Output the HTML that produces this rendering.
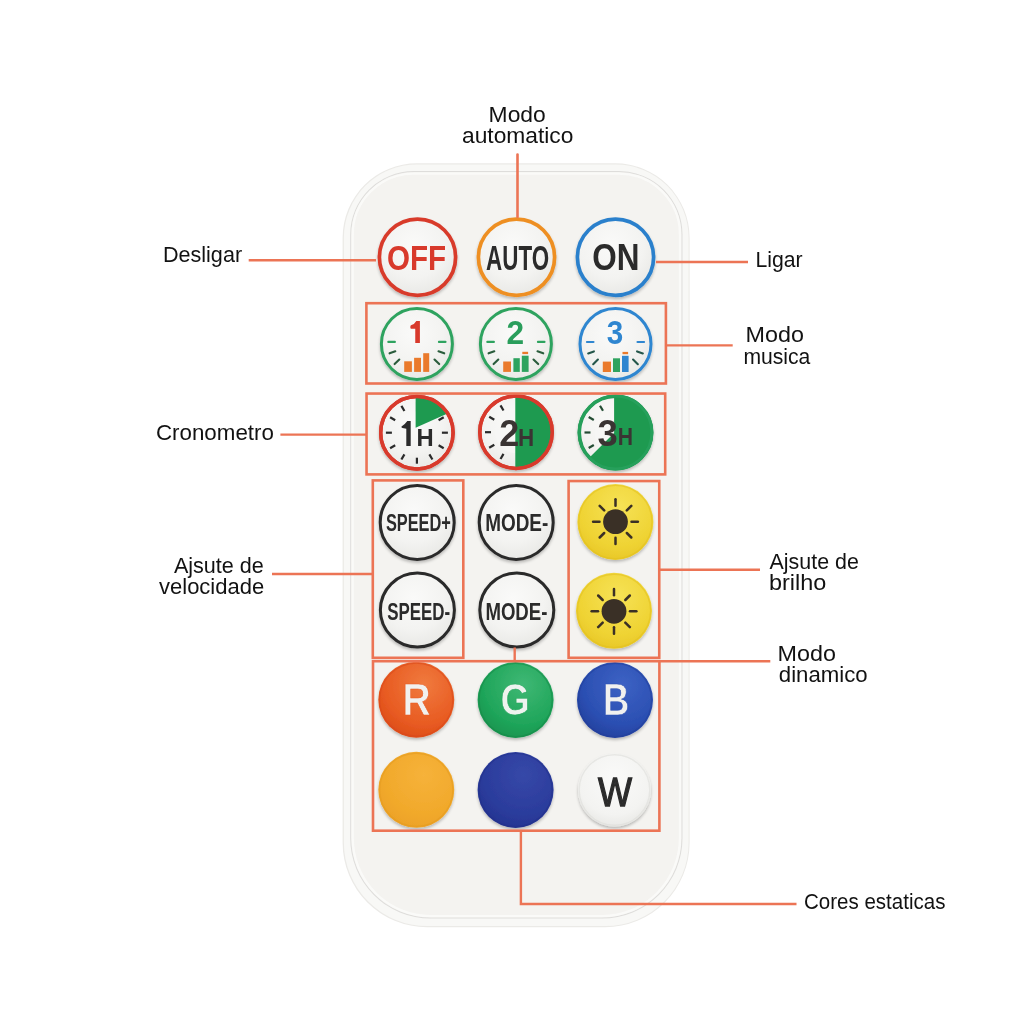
<!DOCTYPE html>
<html><head><meta charset="utf-8">
<style>
html,body{margin:0;padding:0;background:#fff;width:1024px;height:1024px;overflow:hidden}
svg{display:block;will-change:transform}
.lb{font-family:"Liberation Sans",sans-serif;font-size:21.5px;fill:#121212}
.bt{font-family:"Liberation Sans",sans-serif;font-weight:bold}
.ln{stroke:#ec7455;stroke-width:2.4;fill:none}
.bx{stroke-width:2.6}
</style></head>
<body>
<svg width="1024" height="1024" viewBox="0 0 1024 1024">
<defs>
  <radialGradient id="gw" cx="0.45" cy="0.35" r="0.7">
    <stop offset="0" stop-color="#fafaf9"/>
    <stop offset="0.6" stop-color="#f3f3f1"/>
    <stop offset="1" stop-color="#e7e7e4"/>
  </radialGradient>
  <radialGradient id="gy" cx="0.55" cy="0.3" r="0.75">
    <stop offset="0" stop-color="#f6e256"/>
    <stop offset="0.7" stop-color="#efd333"/>
    <stop offset="1" stop-color="#e7c526"/>
  </radialGradient>
  <radialGradient id="gr" cx="0.6" cy="0.3" r="0.75">
    <stop offset="0" stop-color="#f07a3e"/>
    <stop offset="0.7" stop-color="#e85b22"/>
    <stop offset="1" stop-color="#dc4c18"/>
  </radialGradient>
  <radialGradient id="gg" cx="0.6" cy="0.3" r="0.75">
    <stop offset="0" stop-color="#3fb874"/>
    <stop offset="0.7" stop-color="#1fa55a"/>
    <stop offset="1" stop-color="#18934e"/>
  </radialGradient>
  <radialGradient id="gb" cx="0.6" cy="0.3" r="0.75">
    <stop offset="0" stop-color="#3d62c4"/>
    <stop offset="0.7" stop-color="#2b4fb2"/>
    <stop offset="1" stop-color="#243f9c"/>
  </radialGradient>
  <radialGradient id="go" cx="0.6" cy="0.3" r="0.75">
    <stop offset="0" stop-color="#f6b23a"/>
    <stop offset="0.7" stop-color="#f1a92b"/>
    <stop offset="1" stop-color="#eca127"/>
  </radialGradient>
  <radialGradient id="gd" cx="0.6" cy="0.3" r="0.75">
    <stop offset="0" stop-color="#3648a8"/>
    <stop offset="0.7" stop-color="#2b3c9c"/>
    <stop offset="1" stop-color="#243390"/>
  </radialGradient>
  <radialGradient id="gww" cx="0.5" cy="0.35" r="0.7">
    <stop offset="0" stop-color="#fafaf9"/>
    <stop offset="0.7" stop-color="#f3f3f1"/>
    <stop offset="1" stop-color="#e6e6e3"/>
  </radialGradient>
  <filter id="sh" x="-20%" y="-20%" width="140%" height="150%">
    <feGaussianBlur in="SourceAlpha" stdDeviation="1.6"/>
    <feOffset dy="1.5"/>
    <feComponentTransfer><feFuncA type="linear" slope="0.25"/></feComponentTransfer>
    <feMerge><feMergeNode/><feMergeNode in="SourceGraphic"/></feMerge>
  </filter>
</defs>

<!-- remote body -->
<path d="M417.1,163.3 H615.1 A74.5,74.5 0 0 1 689.6,237.8 V842.7 A84.5,84.5 0 0 1 605.1,927.2 H427.1 A84.5,84.5 0 0 1 342.6,842.7 V237.8 A74.5,74.5 0 0 1 417.1,163.3 Z" fill="#ebeae7"/>
<path d="M417.2,164.4 H615.3000000000001 A73.3,73.3 0 0 1 688.6,237.7 V842.7 A83.3,83.3 0 0 1 605.3000000000001,926 H427.2 A83.3,83.3 0 0 1 343.9,842.7 V237.7 A73.3,73.3 0 0 1 417.2,164.4 Z" fill="#f8f8f6"/>
<path d="M413.7,171.1 H619.0 A63.5,63.5 0 0 1 682.5,234.6 V838.1 A80.5,80.5 0 0 1 602.0,918.6 H430.7 A80.5,80.5 0 0 1 350.2,838.1 V234.6 A63.5,63.5 0 0 1 413.7,171.1 Z" fill="#dedddb"/>
<path d="M413.7,172.1 H619.0 A62.5,62.5 0 0 1 681.5,234.6 V838.1 A79.5,79.5 0 0 1 602.0,917.6 H430.7 A79.5,79.5 0 0 1 351.2,838.1 V234.6 A62.5,62.5 0 0 1 413.7,172.1 Z" fill="#f4f3f0"/>
<path d="M413.7,173.6 H619 A61,61 0 0 1 680,234.6 V838.1 A78,78 0 0 1 602,916.1 H430.7 A78,78 0 0 1 352.7,838.1 V234.6 A61,61 0 0 1 413.7,173.6 Z" fill="none" stroke="#fbfbfa" stroke-width="2.4" opacity="0.8"/>

<!-- ===== Row 1 ===== -->
<g filter="url(#sh)">
  <circle cx="417.5" cy="257.2" r="38.1" fill="url(#gw)" stroke="#d83a2c" stroke-width="3.7"/>
  <circle cx="516.5" cy="257.2" r="38.1" fill="url(#gw)" stroke="#ee8f22" stroke-width="3.7"/>
  <circle cx="615.5" cy="257.2" r="38.1" fill="url(#gw)" stroke="#2c80cc" stroke-width="3.7"/>
</g>
<text class="bt" x="387" y="269.6" font-size="35" textLength="59.2" lengthAdjust="spacingAndGlyphs" fill="#d83a2c">OFF</text>
<text class="bt" x="486.1" y="269.6" font-size="35" textLength="63" lengthAdjust="spacingAndGlyphs" fill="#2b2b2b">AUTO</text>
<text class="bt" x="592.3" y="269.5" font-size="36" textLength="47.2" lengthAdjust="spacingAndGlyphs" fill="#2b2b2b">ON</text>

<!-- ===== Row 2 (music) ===== -->
<g filter="url(#sh)">
  <circle cx="416.9" cy="343.9" r="35.5" fill="url(#gw)" stroke="#2ea35f" stroke-width="3"/>
  <circle cx="515.9" cy="343.9" r="35.5" fill="url(#gw)" stroke="#2ea35f" stroke-width="3"/>
  <circle cx="615.5" cy="344" r="35.5" fill="url(#gw)" stroke="#2f86d0" stroke-width="3"/>
</g>
<g transform="translate(416.9,343.9)"><g stroke-width="2.1" stroke-linecap="round" fill="none"><line x1="-28.6" y1="-2" x2="-22" y2="-2" stroke="#2ea35f"/><line x1="28.6" y1="-2" x2="22" y2="-2" stroke="#2ea35f"/><line x1="-27.3" y1="9.4" x2="-21.6" y2="7.4" stroke="#2a5c3c"/><line x1="27.3" y1="9.4" x2="21.6" y2="7.4" stroke="#2a5c3c"/><line x1="-22.3" y1="20.2" x2="-17.6" y2="15.6" stroke="#2a5c3c"/><line x1="22.3" y1="20.2" x2="17.6" y2="15.6" stroke="#2a5c3c"/></g><rect x="-12.7" y="17.4" width="7.7" height="10.6" fill="#ea7a2c"/><rect x="-2.8" y="13.9" width="6.9" height="14.1" fill="#ea7a2c"/><rect x="6.3" y="9.3" width="6.0" height="18.7" fill="#ea7a2c"/></g>
<g transform="translate(515.9,343.9)"><g stroke-width="2.1" stroke-linecap="round" fill="none"><line x1="-28.6" y1="-2" x2="-22" y2="-2" stroke="#2ea35f"/><line x1="28.6" y1="-2" x2="22" y2="-2" stroke="#2ea35f"/><line x1="-27.3" y1="9.4" x2="-21.6" y2="7.4" stroke="#2a5c3c"/><line x1="27.3" y1="9.4" x2="21.6" y2="7.4" stroke="#2a5c3c"/><line x1="-22.3" y1="20.2" x2="-17.6" y2="15.6" stroke="#2a5c3c"/><line x1="22.3" y1="20.2" x2="17.6" y2="15.6" stroke="#2a5c3c"/></g><rect x="-12.7" y="17.6" width="7.8" height="10.4" fill="#ea7a2c"/><rect x="-2.5" y="14.3" width="6.4" height="13.7" fill="#2ea35f"/><rect x="5.9" y="11.8" width="6.8" height="16.2" fill="#2ea35f"/><rect x="6.4" y="7.9" width="5.8" height="2.3" fill="#ea7a2c"/></g>
<g transform="translate(615.5,344)"><g stroke-width="2.1" stroke-linecap="round" fill="none"><line x1="-28.6" y1="-2" x2="-22" y2="-2" stroke="#2f86d0"/><line x1="28.6" y1="-2" x2="22" y2="-2" stroke="#2f86d0"/><line x1="-27.3" y1="9.4" x2="-21.6" y2="7.4" stroke="#24564a"/><line x1="27.3" y1="9.4" x2="21.6" y2="7.4" stroke="#24564a"/><line x1="-22.3" y1="20.2" x2="-17.6" y2="15.6" stroke="#24564a"/><line x1="22.3" y1="20.2" x2="17.6" y2="15.6" stroke="#24564a"/></g><rect x="-12.7" y="17.6" width="8.2" height="10.4" fill="#ea7a2c"/><rect x="-2.5" y="14.3" width="7.0" height="13.7" fill="#2ea35f"/><rect x="6.5" y="11.8" width="6.6" height="16.2" fill="#2f86d0"/><rect x="7.0" y="7.9" width="5.6" height="2.3" fill="#ea7a2c"/></g>
<path d="M416.3,321 H419.9 V342.9 H415.25 V328.7 H411 Q410.3,328.6 410.3,326.9 Q410.4,325.3 411.5,325.1 Q414.2,324.6 416.3,321 Z" fill="#d83a2c"/>
<text class="bt" x="506.6" y="344" font-size="33.5" textLength="17.6" lengthAdjust="spacingAndGlyphs" fill="#2a9e5c">2</text>
<text class="bt" x="606.8" y="344" font-size="33.5" textLength="16.5" lengthAdjust="spacingAndGlyphs" fill="#2f86d0">3</text>

<!-- ===== Row 3 (timers) ===== -->
<g filter="url(#sh)">
  <circle cx="416.9" cy="432.7" r="36.2" fill="url(#gw)" stroke="#d83a2c" stroke-width="3.5"/>
  <circle cx="516" cy="432.2" r="36.2" fill="url(#gw)" stroke="#d83a2c" stroke-width="3.5"/>
  <circle cx="615.5" cy="432.5" r="36.2" fill="url(#gw)" stroke="#229a55" stroke-width="3.5"/>
</g>

<defs><clipPath id="c1"><circle cx="416.9" cy="432.7" r="35"/></clipPath><clipPath id="c2"><circle cx="516" cy="432.2" r="35"/></clipPath><clipPath id="c3"><circle cx="615.5" cy="432.5" r="37.5"/></clipPath></defs>
<circle cx="516" cy="432.2" r="21" fill="#f7f7f5" opacity="0.7"/>
<circle cx="615.5" cy="432.5" r="21" fill="#f7f7f5" opacity="0.7"/>
<g stroke="#2a2a2a" stroke-width="2.2" stroke-linecap="butt"><line x1="438.6" y1="420.2" x2="443.7" y2="417.2"/><line x1="441.9" y1="432.7" x2="447.9" y2="432.7"/><line x1="438.6" y1="445.2" x2="443.7" y2="448.2"/><line x1="429.4" y1="454.4" x2="432.4" y2="459.5"/><line x1="416.9" y1="457.7" x2="416.9" y2="463.7"/><line x1="404.4" y1="454.4" x2="401.4" y2="459.5"/><line x1="395.2" y1="445.2" x2="390.1" y2="448.2"/><line x1="391.9" y1="432.7" x2="385.9" y2="432.7"/><line x1="395.2" y1="420.2" x2="390.1" y2="417.2"/><line x1="404.4" y1="411.0" x2="401.4" y2="405.9"/></g>
<path clip-path="url(#c1)" d="M415.6,427.8 L415.60,382.80 A45,45 0 0 1 456.71,409.50 Z" fill="#1e9a50"/>
<circle cx="416.9" cy="432.7" r="36.2" fill="none" stroke="#d83a2c" stroke-width="3.5"/>
<g stroke="#2a2a2a" stroke-width="2.2" stroke-linecap="butt"><line x1="503.5" y1="453.9" x2="500.5" y2="459.0"/><line x1="494.3" y1="444.7" x2="489.2" y2="447.7"/><line x1="491.0" y1="432.2" x2="485.0" y2="432.2"/><line x1="494.3" y1="419.7" x2="489.2" y2="416.7"/><line x1="503.5" y1="410.5" x2="500.5" y2="405.4"/></g>
<rect clip-path="url(#c2)" x="515.3" y="390" width="45" height="85" fill="#1e9a50"/>
<circle cx="516" cy="432.2" r="36.2" fill="none" stroke="#d83a2c" stroke-width="3.5"/>
<g stroke="#244c34" stroke-width="2.2" stroke-linecap="butt"><line x1="593.8" y1="445.0" x2="588.7" y2="448.0"/><line x1="590.5" y1="432.5" x2="584.5" y2="432.5"/><line x1="593.8" y1="420.0" x2="588.7" y2="417.0"/><line x1="603.0" y1="410.8" x2="600.0" y2="405.7"/></g>
<path clip-path="url(#c3)" d="M614.1,433 L614.10,383.00 A50,50 0 1 1 578.74,468.36 Z" fill="#1e9a50"/>
<circle cx="615.5" cy="432.5" r="36.4" fill="none" stroke="#26a05b" stroke-width="3"/>
<path d="M407.3,421.1 H410.7 V445.9 H406.3 V428.7 L402.5,428.1 Q401.1,427.6 401.5,426.4 Q405,424.6 407.3,421.1 Z" fill="#2b2b2b"/>
<text class="bt" x="416.4" y="446" font-size="23" textLength="17.2" lengthAdjust="spacingAndGlyphs" fill="#2b2b2b">H</text>
<text class="bt" x="499.2" y="445.5" font-size="37.5" textLength="20" lengthAdjust="spacingAndGlyphs" fill="#3a3433">2</text>
<text class="bt" x="518" y="445.5" font-size="23.5" textLength="16.2" lengthAdjust="spacingAndGlyphs" fill="#3a3433">H</text>
<text class="bt" x="597.6" y="445.5" font-size="37.5" textLength="20.3" lengthAdjust="spacingAndGlyphs" fill="#3a3433">3</text>
<text class="bt" x="617.8" y="445.3" font-size="24" textLength="15.3" lengthAdjust="spacingAndGlyphs" fill="#3a3433">H</text>

<!-- ===== Row 4/5 ===== -->
<g filter="url(#sh)">
  <circle cx="417.2" cy="522.4" r="37" fill="url(#gw)" stroke="#2a2a2a" stroke-width="3"/>
  <circle cx="516.2" cy="522.4" r="37" fill="url(#gw)" stroke="#2a2a2a" stroke-width="3"/>
  <circle cx="615.4" cy="522" r="38" fill="url(#gy)"/>
  <circle cx="417.4" cy="610" r="37" fill="url(#gw)" stroke="#2a2a2a" stroke-width="3"/>
  <circle cx="516.8" cy="610" r="37" fill="url(#gw)" stroke="#2a2a2a" stroke-width="3"/>
  <circle cx="614" cy="610.8" r="38" fill="url(#gy)"/>
</g>
<circle cx="615.5" cy="521.7" r="12.4" fill="#3a3026"/><g stroke="#3a3026" stroke-width="2.5" stroke-linecap="round"><line x1="615.5" y1="505.7" x2="615.5" y2="499.3"/><line x1="626.8" y1="510.4" x2="631.3" y2="505.9"/><line x1="631.5" y1="521.7" x2="637.9" y2="521.7"/><line x1="626.8" y1="533.0" x2="631.3" y2="537.5"/><line x1="615.5" y1="537.7" x2="615.5" y2="544.1"/><line x1="604.2" y1="533.0" x2="599.7" y2="537.5"/><line x1="599.5" y1="521.7" x2="593.1" y2="521.7"/><line x1="604.2" y1="510.4" x2="599.7" y2="505.9"/></g>
<circle cx="614" cy="611.3" r="12.4" fill="#3a3026"/><g stroke="#3a3026" stroke-width="2.5" stroke-linecap="round"><line x1="614.0" y1="595.3" x2="614.0" y2="588.9"/><line x1="625.3" y1="600.0" x2="629.8" y2="595.5"/><line x1="630.0" y1="611.3" x2="636.4" y2="611.3"/><line x1="625.3" y1="622.6" x2="629.8" y2="627.1"/><line x1="614.0" y1="627.3" x2="614.0" y2="633.7"/><line x1="602.7" y1="622.6" x2="598.2" y2="627.1"/><line x1="598.0" y1="611.3" x2="591.6" y2="611.3"/><line x1="602.7" y1="600.0" x2="598.2" y2="595.5"/></g>
<text class="bt" x="385.9" y="530.7" font-size="24" textLength="65" lengthAdjust="spacingAndGlyphs" fill="#2b2b2b">SPEED+</text>
<text class="bt" x="485.2" y="530.7" font-size="24" textLength="63.1" lengthAdjust="spacingAndGlyphs" fill="#2b2b2b">MODE-</text>
<text class="bt" x="387.2" y="619.9" font-size="24" textLength="63" lengthAdjust="spacingAndGlyphs" fill="#2b2b2b">SPEED-</text>
<text class="bt" x="485.4" y="619.9" font-size="24" textLength="62" lengthAdjust="spacingAndGlyphs" fill="#2b2b2b">MODE-</text>

<!-- ===== Row 6/7 ===== -->
<g filter="url(#sh)">
  <circle cx="416.3" cy="699.7" r="38" fill="url(#gr)"/>
  <circle cx="515.6" cy="700" r="38" fill="url(#gg)"/>
  <circle cx="615" cy="700" r="38" fill="url(#gb)"/>
  <circle cx="416.3" cy="789.8" r="38" fill="url(#go)"/>
  <circle cx="515.6" cy="790" r="38" fill="url(#gd)"/>
  <circle cx="614.5" cy="790" r="36.5" fill="url(#gww)"/>
</g>
<g fill="none" stroke-width="1.4" opacity="0.55">
  <circle cx="416.3" cy="699.7" r="36.6" stroke="#d9481a"/>
  <circle cx="515.6" cy="700" r="36.6" stroke="#168a48"/>
  <circle cx="615" cy="700" r="36.6" stroke="#223f9a"/>
  <circle cx="416.3" cy="789.8" r="36.6" stroke="#e39a1f"/>
  <circle cx="515.6" cy="790" r="36.6" stroke="#22308a"/>
  <circle cx="615.4" cy="522" r="36.6" stroke="#e2c01f"/>
  <circle cx="614" cy="610.8" r="36.6" stroke="#e2c01f"/>
  <circle cx="614.5" cy="790" r="35.3" stroke="#dcdcd8"/>
</g>
<text class="bt" x="402.4" y="715" font-size="43.5" textLength="28.2" lengthAdjust="spacingAndGlyphs" fill="#f1f1ef" stroke="#e85c23" stroke-width="0.6">R</text>
<text class="bt" x="500.6" y="715.3" font-size="44" textLength="29.2" lengthAdjust="spacingAndGlyphs" fill="#eef3ef" stroke="#22a65b" stroke-width="0.6">G</text>
<text class="bt" x="603" y="715" font-size="43.5" textLength="26.3" lengthAdjust="spacingAndGlyphs" fill="#f1f1ef" stroke="#2c50b3" stroke-width="0.6">B</text>
<text class="bt" x="598" y="805.5" font-size="41" textLength="34" lengthAdjust="spacingAndGlyphs" fill="#2b2b2b" stroke="#2b2b2b" stroke-width="1.3" style="font-weight:normal">W</text>

<!-- ===== boxes ===== -->
<rect class="ln bx" x="366.4" y="303.2" width="299.5" height="80.3"/>
<rect class="ln bx" x="366.55" y="393.55" width="298.65" height="80.85"/>
<rect class="ln bx" x="372.8" y="480.4" width="90.5" height="177.4"/>
<rect class="ln bx" x="568.6" y="481.05" width="90.65" height="176.75"/>
<rect class="ln bx" x="373" y="661.2" width="286.4" height="169.5"/>

<!-- ===== leader lines ===== -->
<line class="ln" x1="517.5" y1="154.6" x2="517.5" y2="217" style="stroke-width:2.6;stroke-linecap:round"/>
<line class="ln" x1="248.7" y1="260.3" x2="376" y2="260.3"/>
<line class="ln" x1="656" y1="262" x2="748" y2="262"/>
<line class="ln" x1="665.4" y1="345.4" x2="732.7" y2="345.4"/>
<line class="ln" x1="280.4" y1="434.6" x2="366" y2="434.6"/>
<line class="ln" x1="272" y1="574" x2="373" y2="574"/>
<line class="ln" x1="659.2" y1="569.8" x2="760" y2="569.8"/>
<line class="ln" x1="659.4" y1="661.2" x2="770.3" y2="661.2"/>
<line class="ln" x1="514.7" y1="647.5" x2="514.7" y2="660.6"/>
<polyline class="ln" points="520.9,830.4 520.9,904 796.5,904"/>

<!-- ===== labels ===== -->
<text class="lb" x="488.6" y="121.7" textLength="57.2" lengthAdjust="spacingAndGlyphs">Modo</text>
<text class="lb" x="462.0" y="143.1" textLength="111.4" lengthAdjust="spacingAndGlyphs">automatico</text>
<text class="lb" x="162.9" y="261.9" textLength="79.2" lengthAdjust="spacingAndGlyphs">Desligar</text>
<text class="lb" x="755.4" y="267.3" textLength="47.1" lengthAdjust="spacingAndGlyphs">Ligar</text>
<text class="lb" x="745.6" y="342.2" textLength="58.4" lengthAdjust="spacingAndGlyphs">Modo</text>
<text class="lb" x="743.4" y="363.8" textLength="67.0" lengthAdjust="spacingAndGlyphs">musica</text>
<text class="lb" x="155.9" y="439.9" textLength="118.0" lengthAdjust="spacingAndGlyphs">Cronometro</text>
<text class="lb" x="173.9" y="573.3" textLength="89.9" lengthAdjust="spacingAndGlyphs">Ajsute de</text>
<text class="lb" x="159.0" y="594.4" textLength="105.2" lengthAdjust="spacingAndGlyphs">velocidade</text>
<text class="lb" x="769.6" y="568.6" textLength="89.2" lengthAdjust="spacingAndGlyphs">Ajsute de</text>
<text class="lb" x="768.9" y="590.2" textLength="57.3" lengthAdjust="spacingAndGlyphs">brilho</text>
<text class="lb" x="777.6" y="660.8" textLength="58.4" lengthAdjust="spacingAndGlyphs">Modo</text>
<text class="lb" x="778.8" y="681.9" textLength="88.8" lengthAdjust="spacingAndGlyphs">dinamico</text>
<text class="lb" x="804.0" y="909" textLength="141.4" lengthAdjust="spacingAndGlyphs">Cores estaticas</text>
</svg>
</body></html>
